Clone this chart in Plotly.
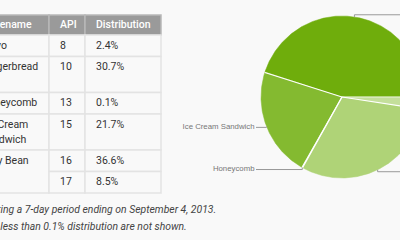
import numpy as np
import plotly.graph_objects as go

# ---------------- data ----------------
header = ["Version", "Codename", "API", "Distribution"]
versions = ["2.2", "2.3.3 -<br>2.3.7", "3.2", "4.0.3 -<br>4.0.4", "4.1.x", "4.2.x"]
codenames = ["Froyo", "Gingerbread", "Honeycomb", "Ice Cream<br>Sandwich", "Jelly Bean", "Jelly Bean"]
api_levels = [8, 10, 13, 15, 16, 17]
distribution = [2.4, 30.7, 0.1, 21.7, 36.6, 8.5]
footnote = ["Data collected during a 7-day period ending on September 4, 2013.",
            "Any versions with less than 0.1% distribution are not shown."]
slice_colors = ["#c4df9b", "#afd377", "#9ac654", "#84ba30", "#6fad0c"]

# pie values aggregated by codename
pie_names, pie_values = [], []
for name, v in zip(codenames, distribution):
    if pie_names and pie_names[-1] == name:
        pie_values[-1] += v
    else:
        pie_names.append(name)
        pie_values.append(v)

# ---------------- layout constants ----------------
W, H = 400, 240
BG = "#f9f9f9"
col_edges = [-100, -30, 49, 85, 161]
head_top, head_bot = 15, 35
pad_x = 11
first_off, line_step = 11.3, 14.8
border = "#e3e3e3"

fig = go.Figure()
shapes = []

# header
for c in range(4):
    shapes.append(dict(type="rect", xref="x", yref="y", x0=col_edges[c], x1=col_edges[c + 1],
                       y0=head_top, y1=head_bot, fillcolor="#9a9a9a",
                       line=dict(color="#b8b8b8", width=1.5), layer="below"))
fig.add_trace(go.Scatter(
    x=[col_edges[c] + pad_x for c in range(4)], y=[(head_top + head_bot) / 2] * 4,
    text=header, mode="text", textposition="middle right",
    textfont=dict(family="Roboto", size=10.5, color="#ffffff", weight=500),
    hoverinfo="skip", showlegend=False))

# body rows
def nlines(s):
    return s.count("<br>") + 1

tops = []
y = head_bot
for i in range(len(versions)):
    n = max(nlines(versions[i]), nlines(codenames[i]))
    h = 21.5 + 14.5 * (n - 1)
    tops.append((y, y + h))
    y += h

tx, ty, tt = [], [], []

def add_cell_text(col, top, s):
    for k, part in enumerate(s.split("<br>")):
        tx.append(col_edges[col] + pad_x)
        ty.append(top + first_off + line_step * k)
        tt.append(part)

i = 0
while i < len(versions):
    # codename cell (merged for identical consecutive names)
    j = i
    while j + 1 < len(codenames) and codenames[j + 1] == codenames[i]:
        j += 1
    shapes.append(dict(type="rect", xref="x", yref="y", x0=col_edges[1], x1=col_edges[2],
                       y0=tops[i][0], y1=tops[j][1], fillcolor=BG,
                       line=dict(color=border, width=1.5), layer="below"))
    add_cell_text(1, tops[i][0], codenames[i])
    for r in range(i, j + 1):
        vals = [versions[r], None, str(api_levels[r]), f"{distribution[r]}%"]
        for c in (0, 2, 3):
            shapes.append(dict(type="rect", xref="x", yref="y", x0=col_edges[c], x1=col_edges[c + 1],
                               y0=tops[r][0], y1=tops[r][1], fillcolor=BG,
                               line=dict(color=border, width=1.5), layer="below"))
            add_cell_text(c, tops[r][0], vals[c])
    i = j + 1

fig.add_trace(go.Scatter(x=tx, y=ty, text=tt, mode="text", textposition="middle right",
                         textfont=dict(family="Roboto", size=10.5, color="#333333"),
                         hoverinfo="skip", showlegend=False))

# footnote
fig.add_trace(go.Scatter(x=[-81, -81], y=[210.7, 227], text=footnote, mode="text",
                         textposition="middle right",
                         textfont=dict(family="Roboto", size=10.4, color="#444444", style="italic"),
                         hoverinfo="skip", showlegend=False))

# ---------------- pie ----------------
cx, cy, R = 342, 97, 81
total = sum(pie_values)
start = 0.0
bounds = []
mids = []
for name, v, col in zip(pie_names, pie_values, slice_colors):
    span = 360.0 * v / total
    a = np.radians(np.linspace(start, start + span, max(3, int(span * 2) + 3)))
    px = np.concatenate([[cx], cx + R * np.cos(a), [cx]])
    py = np.concatenate([[cy], cy + R * np.sin(a), [cy]])
    fig.add_trace(go.Scatter(x=px, y=py, mode="lines", fill="toself", fillcolor=col,
                             line=dict(color=col, width=0.5), hoverinfo="skip", showlegend=False))
    bounds.append(start)
    mids.append(start + span / 2)
    start += span

# white separators
sx, sy = [], []
for b in bounds:
    t = np.radians(b)
    sx += [cx, cx + R * np.cos(t), None]
    sy += [cy, cy + R * np.sin(t), None]
fig.add_trace(go.Scatter(x=sx, y=sy, mode="lines", line=dict(color="#ffffff", width=1.2),
                         hoverinfo="skip", showlegend=False))

# leader lines and labels
lx, ly = [], []
lab_l_x, lab_l_y, lab_l_t = [], [], []
lab_r_x, lab_r_y, lab_r_t = [], [], []
for name, m in zip(pie_names, mids):
    t = np.radians(m)
    ex, ey = cx + R * np.cos(t), cy + R * np.sin(t)
    yy = ey + 2.2 * np.sin(t)
    label = name.replace("<br>", " ")
    if np.cos(t) < 0:
        endx = 256
        lab_l_x.append(endx - 1.5); lab_l_y.append(yy); lab_l_t.append(label)
    else:
        endx = 410
        lab_r_x.append(endx + 2); lab_r_y.append(yy); lab_r_t.append(label)
    lx += [ex, ex, endx, None]
    ly += [ey, yy, yy, None]
fig.add_trace(go.Scatter(x=lx, y=ly, mode="lines", line=dict(color="#999999", width=1),
                         hoverinfo="skip", showlegend=False))
labfont = dict(family="Arial, Liberation Sans", size=7.8, color="#777777")
fig.add_trace(go.Scatter(x=lab_l_x, y=lab_l_y, text=lab_l_t, mode="text", textposition="middle left",
                         textfont=labfont, hoverinfo="skip", showlegend=False))
fig.add_trace(go.Scatter(x=lab_r_x, y=lab_r_y, text=lab_r_t, mode="text", textposition="middle right",
                         textfont=labfont, hoverinfo="skip", showlegend=False))

fig.update_layout(
    width=W, height=H, margin=dict(l=0, r=0, t=0, b=0),
    paper_bgcolor=BG, plot_bgcolor=BG, showlegend=False,
    xaxis=dict(range=[0, W], visible=False, fixedrange=True),
    yaxis=dict(range=[H, 0], visible=False, fixedrange=True),
    shapes=shapes,
)
fig.write_html("out.html")
